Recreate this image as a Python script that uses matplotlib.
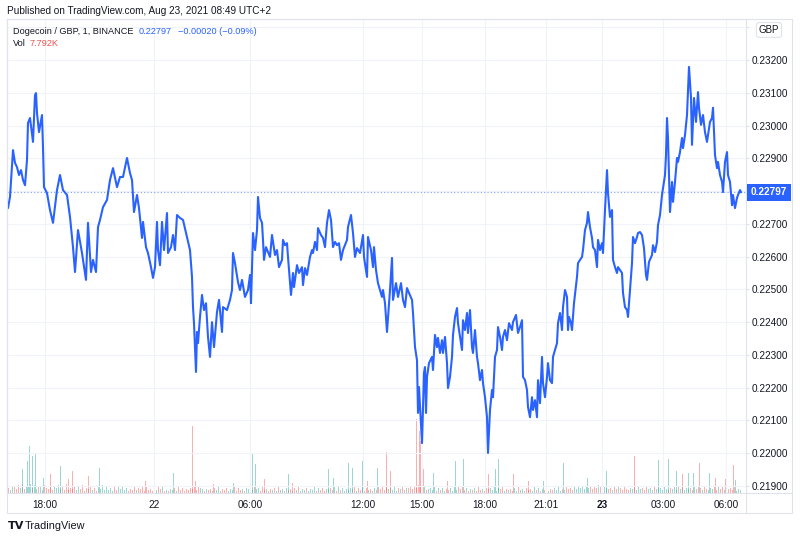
# -*- coding: utf-8 -*-
"""
Dogecoin / GBP 1 min chart, TradingView look
"""

import matplotlib
matplotlib.use('Agg')
import matplotlib.pyplot as plt
from matplotlib.lines import Line2D
from matplotlib.patches import Rectangle
import numpy as np

plt.rcParams['font.family'] = ['Liberation Sans', 'DejaVu Sans']

# bar position (chart units) and close price
bar = [7, 8, 10, 13, 15, 17, 19, 21, 23, 25, 27, 28, 30, 33, 35, 36, 37, 39, 42, 43,
       44, 47, 50, 53, 57, 60, 63, 67, 70, 73, 75, 78, 82, 86, 88, 91, 93, 96, 98, 100,
       103, 107, 110, 113, 117, 120, 123, 127, 130, 132, 134, 137, 139, 142, 143, 146, 148, 151, 153, 155,
       157, 158, 160, 162, 164, 167, 168, 171, 173, 175, 177, 180, 183, 187, 190, 192, 193, 194, 196, 197,
       198, 200, 202, 204, 206, 208, 210, 212, 214, 217, 219, 222, 223, 227, 230, 232, 233, 235, 238, 240,
       242, 245, 248, 250, 251, 253, 255, 257, 258, 260, 262, 263, 264, 266, 268, 270, 272, 273, 275, 277,
       279, 282, 283, 285, 287, 288, 291, 293, 294, 297, 299, 302, 303, 305, 307, 310, 312, 313, 315, 317,
       318, 321, 323, 325, 327, 329, 331, 333, 335, 337, 339, 341, 343, 347, 348, 351, 353, 355, 357, 360,
       363, 364, 367, 368, 371, 373, 374, 376, 378, 380, 382, 383, 385, 387, 390, 392, 393, 396, 398, 401,
       403, 405, 407, 409, 412, 413, 414, 415, 417, 418, 419, 421, 422, 423, 424, 425, 426, 427, 429, 432,
       433, 435, 437, 438, 440, 442, 443, 445, 447, 448, 450, 452, 453, 455, 457, 458, 460, 462, 463, 465,
       467, 468, 470, 472, 473, 475, 477, 478, 480, 482, 483, 485, 487, 488, 490, 492, 493, 495, 497, 498,
       500, 502, 503, 505, 507, 509, 512, 513, 516, 518, 520, 522, 523, 525, 527, 528, 530, 532, 533, 535,
       537, 538, 540, 542, 543, 545, 547, 548, 550, 552, 553, 555, 557, 558, 560, 562, 563, 565, 567, 568,
       569, 571, 572, 574, 577, 578, 580, 582, 583, 585, 587, 588, 590, 592, 593, 595, 597, 598, 600, 602,
       603, 605, 607, 608, 610, 612, 613, 615, 617, 618, 620, 622, 623, 625, 627, 628, 630, 632, 633, 635,
       637, 638, 640, 642, 643, 644, 646, 647, 649, 652, 653, 655, 657, 658, 660, 662, 663, 665, 666, 667,
       668, 670, 672, 673, 675, 677, 678, 680, 682, 683, 685, 687, 688, 689, 691, 692, 694, 696, 698, 699,
       701, 703, 705, 707, 708, 710, 712, 713, 715, 717, 718, 720, 722, 723, 725, 727, 728, 730, 732, 733,
       735, 737, 738, 740, 741]

price = [0.22757, 0.22748, 0.22782, 0.22925, 0.22886, 0.22873, 0.22849, 0.22864, 0.22834, 0.22818,
         0.22895, 0.23008, 0.23023, 0.22950, 0.23093, 0.23099, 0.23038, 0.22980, 0.23032, 0.22934,
         0.22812, 0.22794, 0.22742, 0.22703, 0.22803, 0.22849, 0.22803, 0.22788, 0.22721, 0.22629,
         0.22553, 0.22681, 0.22611, 0.22529, 0.22703, 0.22553, 0.22590, 0.22553, 0.22690, 0.22712,
         0.22751, 0.22773, 0.22834, 0.22870, 0.22812, 0.22843, 0.22843, 0.22901, 0.22855, 0.22834,
         0.22736, 0.22788, 0.22748, 0.22657, 0.22706, 0.22629, 0.22611, 0.22568, 0.22535, 0.22568,
         0.22706, 0.22620, 0.22574, 0.22706, 0.22620, 0.22733, 0.22611, 0.22629, 0.22666, 0.22620,
         0.22727, 0.22718, 0.22712, 0.22660, 0.22620, 0.22538, 0.22446, 0.22397, 0.22248, 0.22370,
         0.22336, 0.22416, 0.22483, 0.22437, 0.22458, 0.22355, 0.22294, 0.22400, 0.22324, 0.22431,
         0.22468, 0.22370, 0.22446, 0.22437, 0.22468, 0.22498, 0.22611, 0.22580, 0.22522, 0.22498,
         0.22529, 0.22477, 0.22498, 0.22544, 0.22458, 0.22672, 0.22620, 0.22681, 0.22782, 0.22718,
         0.22703, 0.22651, 0.22590, 0.22629, 0.22614, 0.22599, 0.22666, 0.22645, 0.22605, 0.22620,
         0.22568, 0.22590, 0.22651, 0.22635, 0.22641, 0.22599, 0.22483, 0.22550, 0.22507, 0.22574,
         0.22550, 0.22568, 0.22513, 0.22565, 0.22544, 0.22599, 0.22620, 0.22611, 0.22645, 0.22620,
         0.22687, 0.22666, 0.22657, 0.22629, 0.22703, 0.22742, 0.22712, 0.22629, 0.22645, 0.22635,
         0.22641, 0.22590, 0.22620, 0.22651, 0.22690, 0.22727, 0.22672, 0.22599, 0.22626, 0.22611,
         0.22666, 0.22599, 0.22538, 0.22660, 0.22620, 0.22568, 0.22629, 0.22559, 0.22519, 0.22498,
         0.22477, 0.22498, 0.22458, 0.22370, 0.22498, 0.22596, 0.22468, 0.22519, 0.22477, 0.22519,
         0.22468, 0.22446, 0.22504, 0.22489, 0.22468, 0.22428, 0.22376, 0.22324, 0.22284, 0.22123,
         0.22202, 0.22092, 0.22031, 0.22141, 0.22245, 0.22263, 0.22123, 0.22233, 0.22275, 0.22294,
         0.22254, 0.22361, 0.22324, 0.22352, 0.22306, 0.22345, 0.22306, 0.22355, 0.22275, 0.22199,
         0.22233, 0.22294, 0.22361, 0.22416, 0.22443, 0.22397, 0.22355, 0.22315, 0.22406, 0.22376,
         0.22428, 0.22367, 0.22437, 0.22324, 0.22306, 0.22376, 0.22294, 0.22275, 0.22223, 0.22254,
         0.22214, 0.22171, 0.22110, 0.22001, 0.22132, 0.22193, 0.22171, 0.22294, 0.22315, 0.22385,
         0.22355, 0.22315, 0.22355, 0.22376, 0.22345, 0.22397, 0.22376, 0.22400, 0.22422, 0.22367,
         0.22385, 0.22406, 0.22233, 0.22223, 0.22193, 0.22141, 0.22110, 0.22171, 0.22132, 0.22162,
         0.22110, 0.22223, 0.22153, 0.22294, 0.22214, 0.22171, 0.22233, 0.22275, 0.22223, 0.22214,
         0.22294, 0.22315, 0.22336, 0.22397, 0.22428, 0.22376, 0.22446, 0.22498, 0.22477, 0.22376,
         0.22416, 0.22397, 0.22376, 0.22458, 0.22538, 0.22580, 0.22590, 0.22599, 0.22620, 0.22681,
         0.22703, 0.22736, 0.22690, 0.22657, 0.22629, 0.22620, 0.22568, 0.22651, 0.22620, 0.22641,
         0.22611, 0.22742, 0.22864, 0.22794, 0.22721, 0.22742, 0.22590, 0.22568, 0.22550, 0.22568,
         0.22559, 0.22550, 0.22489, 0.22446, 0.22437, 0.22416, 0.22498, 0.22580, 0.22660, 0.22641,
         0.22660, 0.22672, 0.22675, 0.22666, 0.22645, 0.22626, 0.22544, 0.22529, 0.22584, 0.22605,
         0.22635, 0.22614, 0.22645, 0.22696, 0.22727, 0.22788, 0.22809, 0.22849, 0.22910, 0.23023,
         0.22962, 0.22736, 0.22828, 0.22767, 0.22828, 0.22901, 0.22889, 0.22919, 0.22962, 0.22931,
         0.22971, 0.23032, 0.23102, 0.23179, 0.23084, 0.22941, 0.23084, 0.23011, 0.23102, 0.23054,
         0.23002, 0.23032, 0.22980, 0.22950, 0.22971, 0.23011, 0.23023, 0.23054, 0.22910, 0.22870,
         0.22889, 0.22849, 0.22828, 0.22797, 0.22889, 0.22919, 0.22849, 0.22828, 0.22757, 0.22788,
         0.22748, 0.22779, 0.22788, 0.22803, 0.22797]

last_price = 0.22797

# volume: small bars every 2 units from bar 8 (values in K), plus the spikes
vol_base = ("5376485947" "6958476385" "4736584639" "3547364825" "4635274836"
            "3526374635" "2436354726" "3425364723" "2435263524" "3546375424"
            "3425362435" "2436253425" "4637452634" "2435263425" "3425362435"
            "2436253524" "4536273524" "3546253625" "3425364736" "4536254635"
            "5647586473" "4536253524" "3526374635" "2435263425" "4536254624"
            "3425263425" "3426352435" "2435362436" "4536475647" "5647586475"
            "4536475364" "3546374536" "4536475364" "3546374635" "4536475364"
            "3546374635" "4536243")
spike_bar = [22, 27, 29, 32, 35, 43, 50, 60, 68, 72, 88, 99, 145, 173, 192, 195, 213, 233,
             252, 255, 264, 288, 292, 328, 333, 348, 352, 362, 367, 377, 386, 390, 416, 419,
             420, 423, 433, 447, 455, 463, 488, 495, 498, 513, 528, 543, 563, 587, 602, 606,
             634, 658, 668, 676, 682, 688, 693, 699, 709, 715, 725, 733, 735]
spike_vol = [24, 32, 47, 37, 39, 15, 19, 27, 14, 22, 17, 25, 12, 20, 67, 12, 9, 10,
             40, 29, 14, 19, 10, 24, 15, 30, 25, 32, 12, 25, 41, 22, 74, 62,
             52, 24, 20, 12, 32, 34, 19, 24, 34, 19, 12, 12, 30, 15, 19, 22,
             37, 33, 34, 22, 19, 20, 20, 30, 20, 15, 14, 28, 13]
spike_up = [1, 1, 1, 1, 1, 1, 0, 1, 0, 0, 0, 1, 0, 1, 0, 0, 0, 1,
            1, 1, 0, 1, 0, 1, 1, 1, 1, 1, 0, 1, 0, 0, 0, 0,
            0, 0, 1, 0, 1, 1, 0, 1, 1, 0, 0, 1, 1, 1, 0, 1,
            0, 1, 1, 1, 0, 1, 1, 0, 1, 0, 0, 0, 1]

price_ticks = [0.219, 0.220, 0.221, 0.222, 0.223, 0.224, 0.225, 0.226, 0.227,
               0.228, 0.229, 0.230, 0.231, 0.232, 0.233]
time_bar = [45, 154, 250, 363, 422, 485, 546, 602, 663, 726]
time_lab = ['18:00', '22', '06:00', '12:00', '15:00', '18:00', '21:01', '23', '03:00', '06:00']

BLUE = '#2962ff'
UP = '#26a69a'
DOWN = '#ef5350'
TXT = '#131722'
GRID = '#f0f3fa'
BORDER = '#e0e3eb'

W, H = 800, 539
def fx(p):
    return p / W
def fy(p):
    return 1 - p / H

fig = plt.figure(figsize=(W / 100, H / 100), dpi=100)
fig.patch.set_facecolor('white')

# plot area 7..746 px across, 19..493 px down
ax = fig.add_axes([fx(7), fy(493), fx(746) - fx(7), fy(19) - fy(493)])
ax2 = ax.twinx()
ax.set_zorder(ax2.get_zorder() + 1)
ax.patch.set_visible(False)

# volume
vb = 8 + 2 * np.arange(len(vol_base))
vv = np.array([int(c) for c in vol_base])
bar_a = np.array(bar)
price_a = np.array(price)
idx = np.clip(np.searchsorted(bar_a, vb), 1, len(bar_a) - 1)
vup = price_a[idx] >= price_a[idx - 1]
ax2.bar(vb, vv, width=1.0, color=np.where(vup, UP, DOWN), alpha=0.45, linewidth=0)
ax2.bar(spike_bar, spike_vol, width=1.0,
        color=[UP if u else DOWN for u in spike_up], alpha=0.45, linewidth=0)
ax2.set_ylim(0, 474)
ax2.set_yticks([])
for s in ax2.spines.values():
    s.set_visible(False)

# price line
ax.plot(bar, price, color=BLUE, lw=1.5, solid_joinstyle='round')
ax.axhline(last_price, color=BLUE, lw=0.8, ls=(0, (1, 2)), alpha=0.6)

ax.set_xlim(7, 746)
ax.set_ylim(0.218787, 0.233251)
ax.set_yticks(price_ticks)
# 0.228 sits under the last price tag and 0.233 under the GBP badge
ax.set_yticklabels(['' if p in (0.228, 0.233) else '%.5f' % p for p in price_ticks])
ax.yaxis.tick_right()
ax.tick_params(axis='y', length=2.5, width=0.8, color=BORDER, pad=1.5, labelsize=7.2, labelcolor=TXT)
ax.set_xticks(time_bar)
ax.set_xticklabels(time_lab)
ax.tick_params(axis='x', length=0, pad=5, labelsize=7.2, labelcolor=TXT)
for lab in ax.get_xticklabels():
    if lab.get_text() == '23':
        lab.set_fontweight('bold')
ax.grid(True, color=GRID, lw=0.8)
for s in ax.spines.values():
    s.set_color(BORDER)
    s.set_linewidth(0.8)

# last price tag
ax.annotate('%.5f' % last_price, xy=(1, last_price), xycoords=('axes fraction', 'data'),
            xytext=(3.5, 0), textcoords='offset points', va='center', ha='left',
            fontsize=7.2, color='white', fontweight='bold',
            bbox=dict(boxstyle='square,pad=0.35', fc=BLUE, ec='none'),
            annotation_clip=False)

# frame around chart and axis panes
fig.add_artist(Rectangle((fx(7), fy(513)), fx(792) - fx(7), fy(19) - fy(513),
                         transform=fig.transFigure, fill=False, ec=BORDER, lw=0.8))
fig.add_artist(Line2D([fx(746), fx(792)], [fy(493), fy(493)], transform=fig.transFigure,
                      color=BORDER, lw=0.8))
fig.add_artist(Line2D([fx(746), fx(746)], [fy(493), fy(513)], transform=fig.transFigure,
                      color=BORDER, lw=0.8))

# GBP badge at top of the price scale
fig.text(fx(769), fy(30), 'GBP', ha='center', va='center', fontsize=7, color=TXT,
         bbox=dict(boxstyle='round,pad=0.25,rounding_size=0.3', fc='white', ec=BORDER, lw=0.8),
         zorder=5)

# header texts
fig.text(fx(7), fy(11), 'Published on TradingView.com, Aug 23, 2021 08:49 UTC+2',
         ha='left', va='center', fontsize=7.2, color=TXT)
t1 = fig.text(fx(13), fy(31), 'Dogecoin / GBP, 1, BINANCE', ha='left', va='center',
              fontsize=6.6, color=TXT)
t2 = ax.annotate('0.22797', xy=(1, 0.5), xycoords=t1, xytext=(4, 0), textcoords='offset points',
                 ha='left', va='center', fontsize=6.6, color=BLUE)
ax.annotate('\u22120.00020 (\u22120.09%)', xy=(1, 0.5), xycoords=t2, xytext=(4, 0),
            textcoords='offset points', ha='left', va='center', fontsize=6.6, color=BLUE)
fig.text(fx(13), fy(44), 'Vol', ha='left', va='center', fontsize=6.6, color=TXT)
fig.text(fx(30), fy(44), '7.792K', ha='left', va='center', fontsize=6.6, color=DOWN)

# footer logo
fig.text(fx(8), fy(526), 'TV', ha='left', va='center', fontsize=8, color=TXT,
         fontweight='heavy', family='DejaVu Sans')
fig.text(fx(25), fy(526), 'TradingView', ha='left', va='center', fontsize=7.8, color=TXT)

fig.savefig('out.png', dpi=100, facecolor='white')
